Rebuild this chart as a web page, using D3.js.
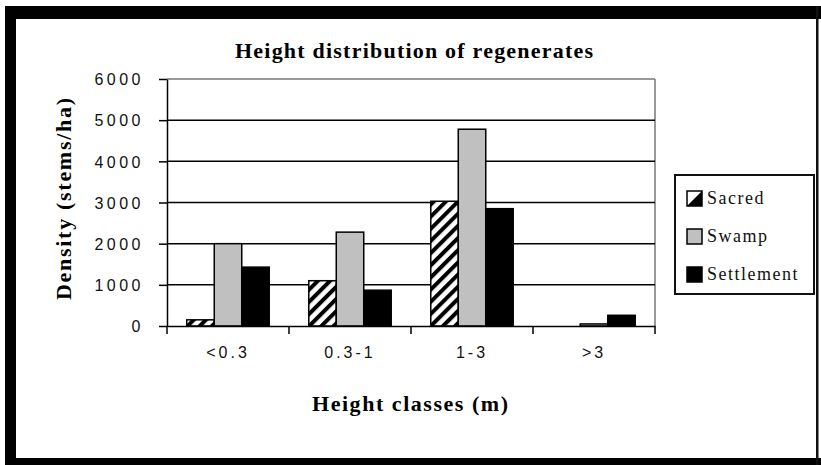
<!DOCTYPE html>
<html>
<head>
<meta charset="utf-8">
<script src="https://cdn.jsdelivr.net/npm/d3@7"></script>
<style>
  html, body { margin: 0; padding: 0; background: #fff; }
  svg { display: block; }
</style>
</head>
<body>
<svg id="chart" width="821" height="465"></svg>
<script>
// Height classes and stem densities (stems/ha) per site type
const categories = ["<0.3", "0.3-1", "1-3", ">3"];
const seriesNames = ["Sacred", "Swamp", "Settlement"];
const sacred = [150, 1100, 3030, 0];
const swamp = [2000, 2280, 4780, 50];
const settlement = [1430, 870, 2850, 260];
const yTicks = [0, 1000, 2000, 3000, 4000, 5000, 6000];

const seriesValues = [sacred, swamp, settlement];

const svg = d3.select("#chart");
const W = 821, H = 465;

// hatch pattern for the Sacred series
const defs = svg.append("defs");
const pat = defs.append("pattern")
  .attr("id", "hatch")
  .attr("patternUnits", "userSpaceOnUse")
  .attr("width", 8.6).attr("height", 8.6)
  .attr("patternTransform", "rotate(45)");
pat.append("rect").attr("width", 8.6).attr("height", 8.6).attr("fill", "#fff");
pat.append("rect").attr("x", 0).attr("y", 0).attr("width", 4).attr("height", 8.6).attr("fill", "#000");

const fills = ["url(#hatch)", "#c0c0c0", "#000"];

// white page and black frame
svg.append("rect").attr("width", W).attr("height", H).attr("fill", "#fff");
svg.append("rect").attr("x", 5).attr("y", 6).attr("width", 816).attr("height", 13).attr("fill", "#000");
svg.append("rect").attr("x", 5).attr("y", 6).attr("width", 11).attr("height", 459).attr("fill", "#000");
svg.append("rect").attr("x", 5).attr("y", 458).attr("width", 816).attr("height", 7).attr("fill", "#000");
svg.append("rect").attr("x", 816).attr("y", 6).attr("width", 2.5).attr("height", 459).attr("fill", "#111");

// scales
const x = d3.scaleBand().domain(categories).range([167, 655]).padding(0);
const xs = d3.scaleBand().domain(seriesNames).range([0, x.bandwidth()]).paddingInner(0).paddingOuter(0.72);
const y = d3.scaleLinear().domain([0, 6000]).range([326, 79]);

// plot frame (top and right) in grey
svg.append("line").attr("x1", 167).attr("x2", 655).attr("y1", y(6000)).attr("y2", y(6000))
  .attr("stroke", "#777").attr("stroke-width", 1.5);
svg.append("line").attr("x1", 655).attr("x2", 655).attr("y1", y(6000)).attr("y2", y(0))
  .attr("stroke", "#777").attr("stroke-width", 1.5);

// gridlines
svg.append("g").selectAll("line")
  .data(yTicks.filter(t => t > 0 && t < 6000))
  .join("line")
  .attr("x1", 167).attr("x2", 655)
  .attr("y1", d => y(d)).attr("y2", d => y(d))
  .attr("stroke", "#000").attr("stroke-width", 1.5);

// bars
const groups = svg.append("g").selectAll("g")
  .data(seriesNames)
  .join("g");
groups.each(function(name, si) {
  d3.select(this).selectAll("rect")
    .data(categories.map((c, i) => ({ c, v: seriesValues[si][i] })).filter(d => d.v > 0))
    .join("rect")
    .attr("x", d => x(d.c) + xs(name))
    .attr("y", d => y(d.v))
    .attr("width", xs.bandwidth())
    .attr("height", d => y(0) - y(d.v))
    .attr("fill", fills[si])
    .attr("stroke", "#000")
    .attr("stroke-width", 1.5);
});

// y axis
const yAxis = svg.append("g")
  .attr("transform", "translate(167,0)")
  .call(d3.axisLeft(y).tickValues(yTicks).tickSize(8).tickSizeOuter(0).tickFormat(d => d));
yAxis.select(".domain").attr("stroke", "#000").attr("stroke-width", 1.5);
yAxis.selectAll(".tick line").attr("stroke", "#000").attr("stroke-width", 1.5);
yAxis.selectAll(".tick text")
  .attr("x", -23)
  .attr("dy", "0.36em")
  .attr("font-family", "Liberation Sans, Arial, sans-serif")
  .attr("font-size", 16)
  .attr("letter-spacing", 3.5)
  .attr("fill", "#111");

// x axis
const xAxis = svg.append("g")
  .attr("transform", `translate(0,${y(0)})`)
  .call(d3.axisBottom(x).tickSize(0).tickSizeOuter(0));
xAxis.select(".domain").attr("stroke", "#000").attr("stroke-width", 1.5);
xAxis.selectAll(".tick text")
  .attr("y", 32)
  .attr("dy", 0)
  .attr("font-family", "Liberation Sans, Arial, sans-serif")
  .attr("font-size", 16)
  .attr("letter-spacing", 3)
  .attr("fill", "#111");
// category separators below the axis
svg.append("g").selectAll("line")
  .data(categories.map(c => x(c)).concat([x.range()[1]]))
  .join("line")
  .attr("x1", d => d).attr("x2", d => d)
  .attr("y1", y(0)).attr("y2", y(0) + 8)
  .attr("stroke", "#000").attr("stroke-width", 1.5);

// titles
svg.append("text")
  .attr("x", 414).attr("y", 58)
  .attr("text-anchor", "middle")
  .attr("font-family", "Liberation Serif, Times New Roman, serif")
  .attr("font-weight", "bold")
  .attr("font-size", 22)
  .attr("textLength", 358).attr("lengthAdjust", "spacing")
  .text("Height distribution of regenerates");

svg.append("text")
  .attr("x", 410).attr("y", 411)
  .attr("text-anchor", "middle")
  .attr("font-family", "Liberation Serif, Times New Roman, serif")
  .attr("font-weight", "bold")
  .attr("font-size", 22)
  .attr("textLength", 196).attr("lengthAdjust", "spacing")
  .text("Height classes (m)");

svg.append("text")
  .attr("transform", "translate(71,199) rotate(-90)")
  .attr("text-anchor", "middle")
  .attr("font-family", "Liberation Serif, Times New Roman, serif")
  .attr("font-weight", "bold")
  .attr("font-size", 22)
  .attr("textLength", 202).attr("lengthAdjust", "spacing")
  .text("Density (stems/ha)");

// legend
const legend = svg.append("g").attr("transform", "translate(675,175)");
legend.append("rect")
  .attr("x", 0).attr("y", 0).attr("width", 139).attr("height", 119)
  .attr("fill", "#fff").attr("stroke", "#111").attr("stroke-width", 2);
const items = legend.selectAll("g.item")
  .data(seriesNames)
  .join("g")
  .attr("class", "item")
  .attr("transform", (d, i) => `translate(12,${16 + i * 38})`);
items.append("rect")
  .attr("width", 15).attr("height", 15)
  .attr("fill", (d, i) => i === 0 ? "#fff" : fills[i])
  .attr("stroke", "#000").attr("stroke-width", 1.5);
items.filter((d, i) => i === 0)
  .append("path")
  .attr("d", "M15,0 L15,15 L0,15 Z")
  .attr("fill", "#000");
items.append("text")
  .attr("x", 20).attr("y", 13)
  .attr("font-family", "Liberation Serif, Times New Roman, serif")
  .attr("font-size", 18)
  .attr("letter-spacing", 1.5)
  .attr("fill", "#111")
  .text(d => d);
</script>
</body>
</html>
